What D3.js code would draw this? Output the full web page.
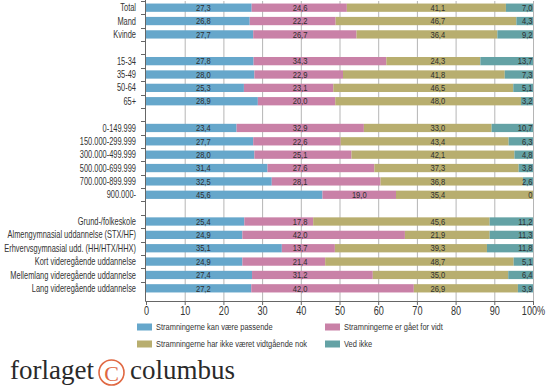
<!DOCTYPE html>
<html><head><meta charset="utf-8">
<script src="https://cdn.jsdelivr.net/npm/d3@7"></script>
<style>
body{margin:0;background:#fff;}
svg{display:block;}
text{font-family:"Liberation Sans",Arial,sans-serif;}
</style></head>
<body><svg id="c" width="550" height="391"></svg>
<script>
const categories = ["Total","Mand","Kvinde",null,"15-34","35-49","50-64","65+",null,
  "0-149.999","150.000-299.999","300.000-499.999","500.000-699.999","700.000-899.999","900.000-",null,
  "Grund-/folkeskole","Almengymnasial uddannelse (STX/HF)","Erhvervsgymnasial udd. (HH/HTX/HHX)",
  "Kort videregående uddannelse","Mellemlang videregående uddannelse","Lang videregående uddannelse"];
const passende = [27.3,26.8,27.7,null,27.8,28.0,25.3,28.9,null,23.4,27.7,28.0,31.4,32.5,45.6,null,25.4,24.9,35.1,24.9,27.4,27.2];
const forVidt  = [24.6,22.2,26.7,null,34.3,22.9,23.1,20.0,null,32.9,22.6,25.1,27.6,28.1,19.0,null,17.8,42.0,13.7,21.4,31.2,42.0];
const ikkeNok  = [41.1,46.7,36.4,null,24.3,41.8,46.5,48.0,null,33.0,43.4,42.1,37.3,36.8,35.4,null,45.6,21.9,39.3,48.7,35.0,26.9];
const vedIkke  = [7.0,4.3,9.2,null,13.7,7.3,5.1,3.2,null,10.7,6.3,4.8,3.8,2.6,0,null,11.2,11.3,11.8,5.1,6.4,3.9];
const seriesNames = ["Stramningerne kan være passende","Stramningerne er gået for vidt","Stramningerne har ikke været vidtgående nok","Ved ikke"];
const colors = ["#66a7cb","#c981a7","#b8ae6f","#64a2a5"];
const xTicks = [0,10,20,30,40,50,60,70,80,90,100];

const svg = d3.select("#c");
const x = d3.scaleLinear().domain([0,100]).range([146,533]);
const y = d3.scaleBand().domain(d3.range(categories.length)).range([1,295]).paddingInner(0.38).paddingOuter(0.19);
const axisY = 301;
const loc = d3.formatLocale({decimal:",",thousands:".",grouping:[3],currency:["","kr"]});
const fmt = v => v === 0 ? "0" : loc.format(".1f")(v);

function ctext(g, tx, ty, str, size, anchor, k, fill){
  return g.append("text")
    .attr("transform",`translate(${tx},${ty}) scale(${k},1)`)
    .attr("x",0).attr("y",0).attr("dy","0.36em")
    .attr("text-anchor",anchor).attr("font-size",size+"px")
    .attr("fill",fill||"#333").text(str);
}

// gridlines
svg.append("g").selectAll("line").data(xTicks.slice(1)).join("line")
  .attr("x1",d=>x(d)+0.5).attr("x2",d=>x(d)+0.5).attr("y1",1).attr("y2",axisY)
  .attr("stroke","#b5b5b5").attr("stroke-width",1);

const series = [passende, forVidt, ikkeNok, vedIkke];
const rows = categories.map((c,i)=>({c,i})).filter(d=>d.c!==null);

const gBars = svg.append("g");
rows.forEach(r=>{
  let cum = 0;
  series.forEach((s,k)=>{
    const v = s[r.i];
    const x0 = cum, x1 = (k===3) ? 100 : cum + v;
    gBars.append("rect").attr("x",x(x0)).attr("width",Math.max(0,x(x1)-x(x0)))
      .attr("y",y(r.i)).attr("height",y.bandwidth()).attr("fill",colors[k]);
    let lx, anchor = "middle";
    if(k===0){ lx = x(14.8); }
    else if(k===1){ lx = (39.8>x0 && 39.8<x1) ? x(39.8) : x((x0+x1)/2); }
    else if(k===2){ lx = x(75.4); }
    else { lx = x(100)-0.5; anchor="end"; }
    ctext(gBars, lx, y(r.i)+y.bandwidth()/2, fmt(v), 9, anchor, 0.84, "#2e2e2e");
    cum += v;
  });
});

// left axis
const gL = svg.append("g");
gL.append("line").attr("x1",145.5).attr("x2",145.5).attr("y1",0).attr("y2",axisY+0.5).attr("stroke","#666");
d3.range(categories.length).forEach(i=>{
  const b = Math.round(y(i) - y.step()*y.paddingInner()/2)+0.5;
  gL.append("line").attr("x1",141).attr("x2",145.5).attr("y1",b).attr("y2",b).attr("stroke","#666");
});
rows.forEach(d=>{
  ctext(gL, 136, y(d.i)+y.bandwidth()/2, d.c, 10, "end", 0.745, "#333");
});

// bottom axis
const gB = svg.append("g");
gB.append("line").attr("x1",145.5).attr("x2",x(100)+0.5).attr("y1",axisY+0.5).attr("y2",axisY+0.5).attr("stroke","#666");
gB.selectAll("line.t").data(xTicks).join("line").attr("class","t")
  .attr("x1",d=>x(d)+0.5).attr("x2",d=>x(d)+0.5).attr("y1",axisY).attr("y2",axisY+4).attr("stroke","#666");
xTicks.forEach(d=>{
  ctext(gB, x(d)+0.5, 310.5, d===100 ? "100%" : String(d), 12, "middle", 0.76, "#333");
});

// legend
const legPos = [[137,327],[325,327],[137,344],[325,344]];
const gLeg = svg.append("g");
seriesNames.forEach((n,k)=>{
  const [lx,ly] = legPos[k];
  gLeg.append("rect").attr("x",lx).attr("y",ly-3.5).attr("width",15).attr("height",7).attr("fill",colors[k]);
  ctext(gLeg, lx+19, ly, n, 9, "start", 0.83, "#333");
});

// logo
const serif = "'Liberation Serif','DejaVu Serif',serif";
const gLogo = svg.append("g");
gLogo.append("text").attr("x",10).attr("y",379).style("font-family",serif).attr("font-size","27px").attr("fill","#2a2a2a").text("forlaget");
gLogo.append("circle").attr("cx",111.5).attr("cy",372.5).attr("r",12.5).attr("fill","none").attr("stroke","#e06842").attr("stroke-width",1.6);
gLogo.append("text").attr("x",111.5).attr("y",380.5).attr("text-anchor","middle").style("font-family",serif).attr("font-size","22px").attr("fill","#e06842").text("C");
gLogo.append("text").attr("x",130).attr("y",379).style("font-family",serif).attr("font-size","27px").attr("fill","#2a2a2a").text("columbus");
</script></body></html>
